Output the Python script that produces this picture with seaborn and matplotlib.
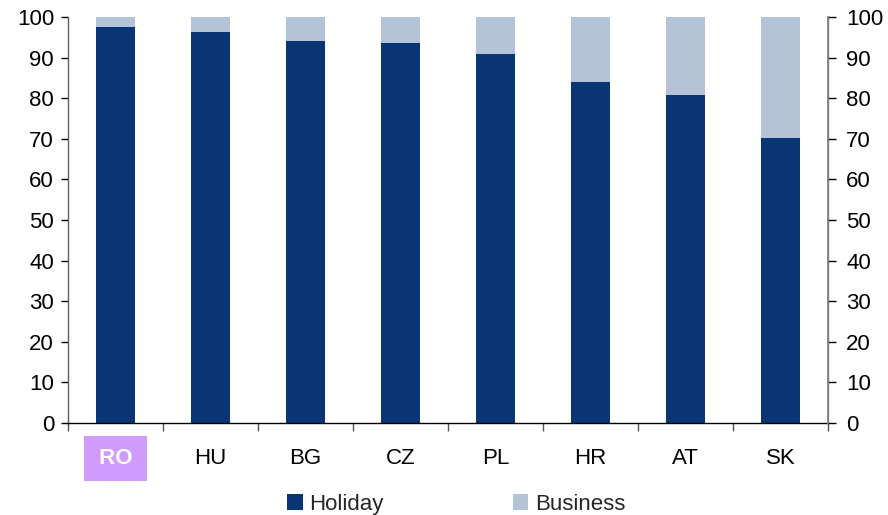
import matplotlib
matplotlib.use("Agg")
import matplotlib.pyplot as plt
import seaborn as sns
import pandas as pd
from matplotlib.patches import Patch
from matplotlib.ticker import FixedLocator

countries = ["RO", "HU", "BG", "CZ", "PL", "HR", "AT", "SK"]
holiday = [97.5, 96.3, 94.1, 93.6, 90.9, 84.0, 80.8, 70.2]
business = [100 - h for h in holiday]
yticks = list(range(0, 101, 10))

sns.set_theme(style="white")
plt.rcParams['font.family'] = ['Liberation Sans', 'DejaVu Sans']

dark = "#0a3574"
light = "#b4c3d7"
FS = 16

df = pd.DataFrame({"country": countries, "Holiday": holiday, "Business": business})
df["total"] = df["Holiday"] + df["Business"]

fig = plt.figure(figsize=(8.88, 5.15), dpi=100)
ax = fig.add_axes([68/888, 92/515, 760/888, 406/515])

sns.barplot(data=df, x="country", y="total", color=light, width=0.42, ax=ax,
            saturation=1, linewidth=0, edgecolor="none")
sns.barplot(data=df, x="country", y="Holiday", color=dark, width=0.42, ax=ax,
            saturation=1, linewidth=0, edgecolor="none")

ax.set_xlim(-0.5, len(countries) - 0.5)
ax.set_ylim(0, 100)
ax.set_xlabel("")
ax.set_ylabel("")
ax.set_yticks(yticks)
ax.tick_params(axis="y", labelsize=FS, labelcolor="black", length=5, width=1, color="black",
               direction="out", left=True, pad=5)
ax.tick_params(axis="x", which="major", length=0, labelsize=FS, labelcolor="black", pad=18)
ax.xaxis.set_minor_locator(FixedLocator([i + 0.5 for i in range(-1, len(countries))]))
ax.tick_params(axis="x", which="minor", length=6, width=1, color="#555555", bottom=True, direction="out")

ax.spines["top"].set_visible(False)
for s in ["left", "right", "bottom"]:
    ax.spines[s].set_visible(True)
    ax.spines[s].set_linewidth(1)
ax.spines["left"].set_color("#606060")
ax.spines["right"].set_color("#808080")
ax.spines["bottom"].set_color("black")

ax2 = ax.twinx()
ax2.set_ylim(0, 100)
ax2.set_yticks(yticks)
ax2.tick_params(axis="y", labelsize=FS, labelcolor="black", length=6, width=1, color="black",
                direction="out", right=True, pad=7)
for s in ["top", "left", "bottom"]:
    ax2.spines[s].set_visible(False)
ax2.spines["right"].set_color("#808080")

ax.set_xticklabels([" RO " if c == "RO" else c for c in countries])
for lbl in ax.get_xticklabels():
    if lbl.get_text().strip() == "RO":
        lbl.set_color("white")
        lbl.set_fontweight("bold")
        lbl.set_bbox(dict(facecolor="#cf9bfd", edgecolor="none", boxstyle="square,pad=0.4",
                          mutation_aspect=1.35))

handles = [Patch(facecolor=dark, edgecolor="none"), Patch(facecolor=light, edgecolor="none")]
fig.legend(handles, ["Holiday", "Business"], loc="lower center", bbox_to_anchor=(0.514, -0.03),
           ncol=2, frameon=False, fontsize=FS, handlelength=0.7, handleheight=0.7,
           handletextpad=0.3, columnspacing=5.8, borderpad=0.2)

fig.savefig("out.png", dpi=100)
